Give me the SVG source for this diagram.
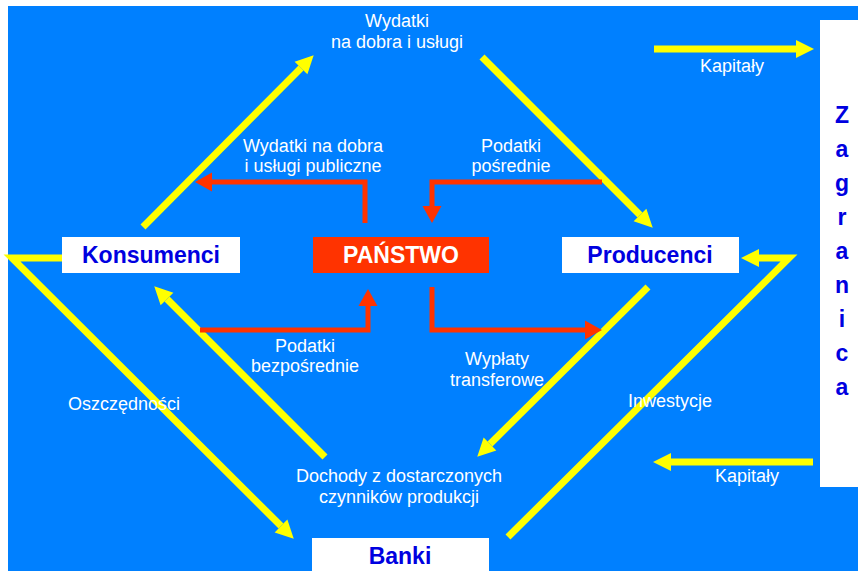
<svg xmlns="http://www.w3.org/2000/svg" width="858" height="571" viewBox="0 0 858 571">
<style>
.lbl{font-family:"Liberation Sans",Arial,sans-serif;font-size:18px;fill:#ffffff;text-anchor:middle}
.node{font-family:"Liberation Sans",Arial,sans-serif;font-size:23px;font-weight:bold;fill:#0000e0;text-anchor:middle}
.box{fill:#ffffff}
.y{fill:none;stroke:#ffff00;stroke-width:7;stroke-linejoin:miter}
.r{fill:none;stroke:#ff3300;stroke-width:5;stroke-linejoin:miter}
</style>
<defs>
<marker id="ya" markerUnits="userSpaceOnUse" markerWidth="18" markerHeight="18" refX="0" refY="9" orient="auto" overflow="visible">
<path d="M0,0 L18,9 L0,18 z" fill="#ffff00"/>
</marker>
<marker id="ra" markerUnits="userSpaceOnUse" markerWidth="18" markerHeight="19" refX="0" refY="9.5" orient="auto" overflow="visible">
<path d="M0,0 L17,9.5 L0,19 z" fill="#ff3300"/>
</marker>
</defs>
<rect x="0" y="0" width="858" height="571" fill="#ffffff"/>
<rect x="8" y="6" width="850" height="565" fill="#0080ff"/>

<g id="connectors">
<path class="y" d="M143,227 L301,68" marker-end="url(#ya)"/>
<path class="y" d="M482,57 L640,215" marker-end="url(#ya)"/>
<path class="y" d="M62,258 L12,258 L281,526" marker-end="url(#ya)"/>
<path class="y" d="M325,457 L167,299" marker-end="url(#ya)"/>
<path class="y" d="M648,287 L490,444" marker-end="url(#ya)"/>
<path class="y" d="M508,537 L789,258 L759,258" marker-end="url(#ya)"/>
<path class="y" d="M654,49 L796,49" marker-end="url(#ya)"/>
<path class="y" d="M813,462 L671,462" marker-end="url(#ya)"/>
<path class="r" d="M365,223 L365,182 L212,182" marker-end="url(#ra)"/>
<path class="r" d="M602,182 L432,182 L432,206" marker-end="url(#ra)"/>
<path class="r" d="M200,330 L368,330 L368,306" marker-end="url(#ra)"/>
<path class="r" d="M432,287 L432,330 L585,330" marker-end="url(#ra)"/>
</g>

<g id="labels">
<text class="lbl" x="397" y="27">Wydatki</text>
<text class="lbl" x="397" y="48">na dobra i usługi</text>
<text class="lbl" x="313" y="152">Wydatki na dobra</text>
<text class="lbl" x="313" y="172">i usługi publiczne</text>
<text class="lbl" x="511" y="152">Podatki</text>
<text class="lbl" x="511" y="172">pośrednie</text>
<text class="lbl" x="732" y="72">Kapitały</text>
<text class="lbl" x="305" y="352">Podatki</text>
<text class="lbl" x="305" y="372">bezpośrednie</text>
<text class="lbl" x="124" y="410">Oszczędności</text>
<text class="lbl" x="497" y="365">Wypłaty</text>
<text class="lbl" x="497" y="386">transferowe</text>
<text class="lbl" x="670" y="407">Inwestycje</text>
<text class="lbl" x="399" y="482">Dochody z dostarczonych</text>
<text class="lbl" x="399" y="503">czynników produkcji</text>
<text class="lbl" x="747" y="482">Kapitały</text>
</g>

<g id="konsumenci">
<rect class="box" x="62" y="237" width="178" height="36"/>
<text class="node" x="151" y="263">Konsumenci</text>
</g>
<g id="panstwo">
<rect x="313" y="237" width="176" height="36" fill="#ff3300"/>
<text class="node" x="401" y="263" style="fill:#ffffff">PAŃSTWO</text>
</g>
<g id="producenci">
<rect class="box" x="562" y="237" width="177" height="36"/>
<text class="node" x="650" y="263">Producenci</text>
</g>
<g id="banki">
<rect class="box" x="312" y="538" width="177" height="33"/>
<text class="node" x="400" y="564">Banki</text>
</g>
<g id="zagranica">
<rect class="box" x="820" y="20" width="38" height="467"/>
<text class="node" x="842" y="123">Z</text>
<text class="node" x="842" y="157">a</text>
<text class="node" x="842" y="191">g</text>
<text class="node" x="842" y="225">r</text>
<text class="node" x="842" y="259">a</text>
<text class="node" x="842" y="293">n</text>
<text class="node" x="842" y="327">i</text>
<text class="node" x="842" y="361">c</text>
<text class="node" x="842" y="395">a</text>
</g>
</svg>
